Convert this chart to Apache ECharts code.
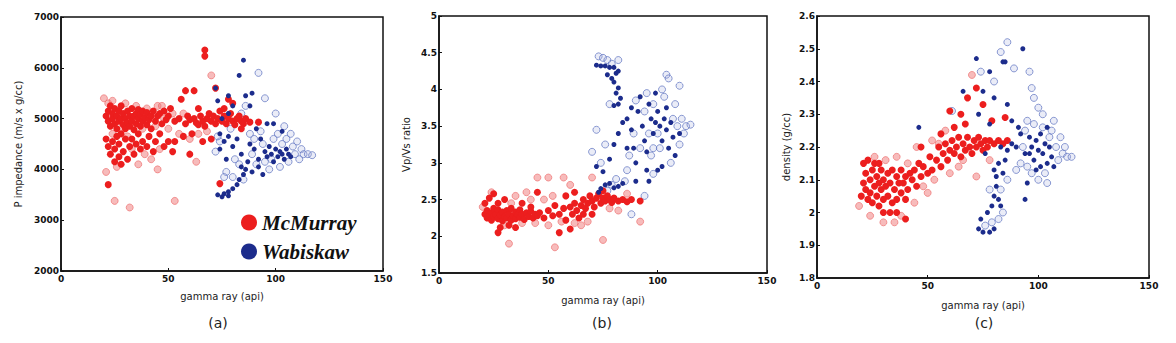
<!DOCTYPE html>
<html>
<head>
<meta charset="utf-8">
<script src="https://cdn.jsdelivr.net/npm/echarts@6/dist/echarts.min.js"></script>
<style>
  html, body { margin: 0; padding: 0; background: #fff; }
  #chart { width: 1176px; height: 343px; }
</style>
</head>
<body>
<div id="chart"></div>
<script>
// panel (a): gamma ray vs P impedance
const mcA = [[21,5050],[22,4950],[22,5150],[23,4850],[23,5250],[24,5000],[24,5100],[25,4900],[25,5200],[26,5050],[26,4800],[27,4950],[27,5150],[28,5000],[28,5250],[29,4880],[29,5100],[30,5000],[30,4800],[31,5150],[31,4920],[32,5050],[32,4850],[33,5200],[33,4950],[34,5050],[34,4780],[35,5100],[35,4900],[36,5000],[36,5180],[37,4850],[37,5080],[38,4950],[38,5150],[39,5020],[40,4880],[40,5120],[41,4980],[42,5050],[42,4800],[43,5150],[44,4950],[45,5050],[46,5100],[47,4900],[48,5150],[49,4980],[50,5050],[51,5200],
  [21,4600],[22,4450],[23,4300],[24,4550],[25,4150],[25,4400],[26,4650],[27,4250],[27,4500],[28,4100],[28,4700],[29,4350],[30,4600],[31,4200],[32,4450],[33,4600],[34,4300],[35,4500],[36,4700],[37,4400],[38,4550],[40,4450],[41,4650],[43,4350],[44,4550],[46,4700],[48,4450],[50,4550],[52,4350],
  [53,4950],[55,5000],[56,5380],[57,4650],[58,4900],[59,5050],[60,4980],[61,4700],[62,5000],[63,4920],[64,4880],[65,5050],[66,4950],[67,4850],[68,5000],[69,5100],[70,4950],[71,5050],[72,4900],[73,5000],[74,5150],[75,4950],[76,5050],[77,4900],[78,5000],[79,5100],[80,4950],[81,4880],[82,5000],[83,5050],[84,4950],[85,4900],[86,5000],[88,4930],[92,4930],
  [58,5550],[62,5550],[67,6350],[67,6230],[72,5600],[22,3700],[53,4550],[60,4300],[66,4550],[70,4600],[74,3720],[80,5300],[76,5200],[64,5200],[78,5380],[84,4800]];
const mcAFaint = [[20,5400],[22,5300],[24,5350],[21,3950],[25,3380],[32,3250],[53,3380],[45,4000],[63,4150],[30,5300],[35,5250],[40,5200],[45,5250],[48,5000],[50,4800],[38,4800],[28,4800],[33,4400],[42,4200],[36,4100],[26,4050],[46,4400],[55,4700],[60,4600],[70,5850],[57,5100],[64,4700],[68,4750],[39,4300],[44,4850],[31,4650],[24,4700],[47,5250],[52,5100]];
const wbA = [[85,6150],[83,5850],[72,5600],[73,5350],[78,5450],[80,5250],[86,5450],[88,5250],[89,5500],[73,3500],[75,3460],[76,3520],[78,3560],[80,3620],[82,3700],[83,3800],[85,3900],[84,4050],[86,4000],[78,3480],[74,4700],[76,4550],[78,4650],[80,4450],[82,4600],[74,4400],[77,4200],[84,4300],[87,4150],[88,4500],[90,4400],[92,4200],[93,4600],[95,4350],[96,4250],[97,4450],[98,4300],[99,4150],[100,4400],[101,4250],[102,4350],[103,4300],[104,4200],[105,4400],[106,4300],[107,4250],[96,4900],[99,4900],[103,4750],[92,4050],[94,3900],[89,3950],[91,4800],[78,5100],[75,5000]];
const wbAFaint = [[95,5400],[100,5100],[92,5900],[84,5100],[86,5250],[74,4550],[72,4350],[73,4650],[79,4800],[81,4200],[83,4100],[85,3800],[80,3850],[88,4700],[90,4600],[93,4750],[95,4150],[97,4000],[99,4600],[101,4700],[103,4500],[105,4600],[106,4150],[108,4450],[109,4300],[110,4550],[111,4200],[112,4400],[113,4300],[115,4300],[117,4280],[107,4700],[104,4850],[98,4200],[102,4050],[94,4500],[76,3850],[77,3950],[89,4300],[91,4100]];

// panel (b): gamma ray vs Vp/Vs ratio
const mcB = [[21,2.30],[22,2.25],[22,2.35],[23,2.28],[24,2.32],[24,2.22],[25,2.38],[25,2.27],[26,2.30],[27,2.24],[27,2.36],[28,2.29],[29,2.33],[29,2.21],[30,2.27],[31,2.35],[31,2.25],[32,2.30],[33,2.22],[33,2.38],[34,2.28],[35,2.33],[35,2.24],[36,2.30],[37,2.26],[37,2.36],[38,2.30],[39,2.23],[40,2.32],[41,2.27],[42,2.34],[43,2.25],[44,2.30],[45,2.28],[21,2.45],[23,2.52],[25,2.58],[27,2.45],[30,2.50],[32,2.15],[28,2.12],[35,2.12],[38,2.45],[42,2.40],
  [46,2.32],[48,2.25],[50,2.35],[52,2.28],[53,2.42],[55,2.30],[57,2.38],[58,2.22],[60,2.40],[61,2.30],[62,2.45],[63,2.35],[64,2.25],[65,2.42],[66,2.50],[67,2.38],[68,2.45],[69,2.55],[70,2.48],[71,2.40],[72,2.52],[73,2.58],[74,2.45],[75,2.52],[76,2.48],[77,2.55],[78,2.50],[79,2.46],[80,2.52],[82,2.48],[84,2.50],[86,2.47],[88,2.50],[92,2.48],[55,2.05],[60,2.10],[27,2.05],[66,2.30],[70,2.30],[45,2.60],[58,2.55],[62,2.60],[75,2.62]];
const mcBFaint = [[32,1.90],[53,1.85],[75,1.95],[92,2.20],[45,2.80],[50,2.80],[57,2.80],[70,2.80],[60,2.70],[40,2.60],[35,2.55],[48,2.50],[52,2.55],[56,2.20],[62,2.18],[65,2.15],[30,2.15],[20,2.40],[24,2.60],[33,2.45],[44,2.18],[50,2.15],[68,2.20],[78,2.38],[82,2.35],[86,2.58],[42,2.50],[38,2.18]];
const wbB = [[72,4.33],[74,4.32],[76,4.32],[78,4.30],[80,4.30],[81,4.22],[82,4.25],[80,4.10],[82,4.02],[81,3.95],[83,3.88],[82,3.80],[80,3.78],[79,4.15],[77,4.20],[73,2.60],[74,2.65],[76,2.70],[78,2.72],[80,2.66],[82,2.68],[84,2.72],[75,2.88],[72,2.95],[78,3.05],[80,3.25],[82,3.40],[84,3.55],[86,3.60],[88,3.45],[89,3.20],[90,3.00],[91,3.70],[93,3.50],[94,3.30],[95,3.15],[96,3.80],[97,3.60],[98,3.40],[99,3.55],[100,3.70],[101,3.50],[102,3.30],[103,3.60],[104,3.45],[105,3.20],[106,3.55],[107,3.35],[108,3.10],[102,2.95],[100,2.90],[96,2.75],[90,2.75],[88,3.75],[92,3.90],[95,2.90],[110,3.40],[99,3.95],[104,3.75],[86,3.20]];
const wbBFaint = [[73,4.45],[75,4.43],[77,4.40],[79,4.35],[82,4.40],[78,3.80],[70,3.15],[72,3.45],[74,3.00],[76,3.25],[77,2.62],[79,2.70],[81,2.78],[85,2.75],[86,2.90],[87,3.10],[89,3.40],[90,3.85],[92,3.20],[94,3.70],[95,3.95],[96,3.40],[98,3.20],[98,3.80],[100,3.40],[101,3.20],[103,3.90],[104,4.20],[105,4.15],[106,3.00],[107,3.60],[108,3.80],[109,3.50],[110,3.25],[111,3.60],[112,3.40],[113,3.50],[115,3.52],[110,4.05],[94,2.55],[98,2.85],[88,2.30],[102,4.00],[97,3.10]];

// panel (c): gamma ray vs density
const mcC = [[20,2.05],[21,2.09],[22,2.07],[22,2.12],[23,2.04],[24,2.10],[24,2.06],[25,2.13],[25,2.03],[26,2.08],[27,2.11],[27,2.05],[28,2.09],[28,2.02],[29,2.13],[29,2.07],[30,2.10],[30,2.04],[31,2.08],[32,2.12],[32,2.05],[33,2.09],[34,2.03],[34,2.13],[35,2.07],[36,2.11],[36,2.04],[37,2.09],[38,2.06],[38,2.13],[39,2.09],[40,2.04],[40,2.11],[41,2.07],[42,2.12],[23,2.16],[26,2.15],[30,2.00],[33,2.00],[36,2.00],[40,1.98],[28,2.15],[21,2.15],
  [43,2.10],[44,2.13],[45,2.08],[46,2.15],[47,2.11],[48,2.14],[50,2.12],[51,2.17],[52,2.13],[54,2.16],[55,2.20],[56,2.14],[57,2.18],[58,2.21],[59,2.16],[60,2.19],[61,2.22],[62,2.18],[63,2.20],[64,2.23],[65,2.17],[66,2.21],[67,2.19],[68,2.23],[69,2.20],[70,2.18],[71,2.22],[72,2.20],[73,2.23],[74,2.21],[75,2.19],[76,2.22],[77,2.20],[78,2.22],[80,2.21],[82,2.22],[84,2.21],[86,2.22],[60,2.31],[65,2.30],[67,2.27],[68,2.35],[72,2.38],[75,2.33],[79,2.28],[56,2.24],[47,2.20],[62,2.26],[85,2.29]];
const mcCFaint = [[19,2.02],[24,1.99],[30,1.97],[35,1.97],[38,1.99],[70,2.42],[45,2.20],[55,2.21],[72,2.11],[60,2.12],[44,2.03],[50,2.06],[52,2.22],[36,2.17],[41,2.15],[58,2.25],[64,2.14],[26,2.17],[31,2.16],[48,2.08],[66,2.16],[78,2.16],[53,2.10]];
const wbC = [[73,1.95],[75,1.94],[78,1.94],[80,1.95],[74,1.98],[77,2.00],[79,2.02],[80,2.05],[81,2.08],[82,2.04],[83,2.02],[81,2.11],[80,2.13],[82,2.15],[84,2.12],[85,2.16],[85,2.46],[84,2.46],[93,2.50],[72,2.47],[78,2.43],[66,2.37],[75,2.37],[80,2.35],[86,2.33],[73,2.30],[78,2.27],[88,2.28],[91,2.26],[94,2.04],[95,2.09],[46,2.26],[96,2.18],[97,2.20],[98,2.16],[99,2.22],[100,2.19],[101,2.24],[102,2.18],[103,2.21],[104,2.15],[105,2.20],[106,2.17],[107,2.14],[99,2.13],[101,2.14],[96,2.23],[94,2.18],[88,2.21],[90,2.20],[86,2.19],[104,2.26],[92,2.24],[76,2.18],[83,2.20]];
const wbCFaint = [[76,1.96],[79,1.97],[82,1.98],[84,2.00],[78,2.07],[83,2.07],[86,2.10],[83,2.49],[86,2.52],[89,2.44],[96,2.43],[97,2.38],[98,2.35],[100,2.32],[102,2.30],[95,2.28],[93,2.20],[92,2.15],[95,2.14],[97,2.12],[100,2.10],[103,2.12],[105,2.23],[106,2.25],[108,2.20],[110,2.23],[111,2.18],[112,2.20],[113,2.17],[115,2.17],[107,2.28],[109,2.16],[94,2.25],[90,2.13],[61,2.31],[74,2.43],[80,2.40],[98,2.27],[102,2.26],[104,2.09]];

const xTicks = [0, 150, 50];           // min, max, interval (gamma ray)
const yRanges = [
  [2000, 7000, 1000],
  [1.5, 5, 0.5],
  [1.8, 2.6, 0.1]
];
const yNames = ['P impedance (m/s x g/cc)', 'Vp/Vs ratio', 'density (g/cc)'];
const captions = ['(a)', '(b)', '(c)'];

const grids = [
  { left: 61, top: 17, width: 322, height: 254 },
  { left: 439, top: 16, width: 328, height: 257 },
  { left: 817, top: 16, width: 332, height: 262 }
];
const yNameGaps = [38, 28, 26];
const xNameGaps = [20, 22, 22];
const captionX = [213, 597, 979];

function labelFont() {
  return { color: '#111', fontFamily: 'DejaVu Sans', fontWeight: 'bold', fontSize: 9 };
}
const plain = v => String(+Number(v).toFixed(2));

const xAxis = grids.map((g, i) => ({
  gridIndex: i, type: 'value', min: xTicks[0], max: xTicks[1], interval: xTicks[2],
  name: 'gamma ray (api)', nameLocation: 'middle', nameGap: xNameGaps[i],
  nameTextStyle: { color: '#222', fontFamily: 'DejaVu Sans', fontSize: 10 },
  axisLine: { show: true, lineStyle: { color: '#111', width: 1.5 } },
  axisTick: { show: true, inside: true, length: 3, lineStyle: { color: '#111' } },
  axisLabel: Object.assign({ margin: 3, formatter: plain }, labelFont()),
  splitLine: { show: false }
}));
const yAxis = grids.map((g, i) => ({
  gridIndex: i, type: 'value', min: yRanges[i][0], max: yRanges[i][1], interval: yRanges[i][2],
  name: yNames[i], nameLocation: 'middle', nameGap: yNameGaps[i],
  nameTextStyle: { color: '#222', fontFamily: 'DejaVu Sans', fontSize: 10 },
  axisLine: { show: true, lineStyle: { color: '#111', width: 1.5 } },
  axisTick: { show: true, inside: true, length: 3, lineStyle: { color: '#111' } },
  axisLabel: Object.assign({ margin: 2, formatter: plain }, labelFont()),
  splitLine: { show: false }
}));

const panels = [
  [mcA, mcAFaint, wbA, wbAFaint],
  [mcB, mcBFaint, wbB, wbBFaint],
  [mcC, mcCFaint, wbC, wbCFaint]
];

const series = [];
panels.forEach((p, i) => {
  const base = { type: 'scatter', xAxisIndex: i, yAxisIndex: i };
  series.push(Object.assign({}, base, {
    name: 'McMurray (faint)', data: p[1], symbolSize: 7,
    itemStyle: { color: 'rgba(240,120,120,0.5)', borderColor: 'rgba(235,90,90,0.55)', borderWidth: 1, opacity: 1 }
  }));
  series.push(Object.assign({}, base, {
    name: 'Wabiskaw (open)', data: p[3], symbolSize: 7,
    itemStyle: { color: 'rgba(170,180,225,0.25)', borderColor: 'rgba(100,120,195,0.75)', borderWidth: 1, opacity: 1 }
  }));
  series.push(Object.assign({}, base, {
    name: 'McMurray', data: p[0], symbolSize: 7,
    itemStyle: { color: '#ec1e1e', opacity: 1 }
  }));
  series.push(Object.assign({}, base, {
    name: 'Wabiskaw', data: p[2], symbolSize: 5,
    itemStyle: { color: '#1c2c8c', opacity: 1 }
  }));
});

// svg renderer: the canvas one kept losing the frame lines with this many marks
const chart = echarts.init(document.getElementById('chart'), null, { renderer: 'svg' });
chart.setOption({
  animation: false,
  grid: grids.map(g => Object.assign({ show: true, borderColor: '#111', borderWidth: 1.5 }, g)),
  xAxis: xAxis,
  yAxis: yAxis,
  series: series,
  title: captions.map((c, i) => ({
    text: c, left: captionX[i], top: 311, textAlign: 'center',
    textStyle: { color: '#222', fontFamily: 'DejaVu Sans', fontWeight: 'normal', fontSize: 14 }
  })),
  legend: {
    data: ['McMurray', 'Wabiskaw'],
    orient: 'vertical', left: 236, top: 207, itemGap: 8,
    icon: 'circle', itemWidth: 16, itemHeight: 16, selectedMode: false,
    textStyle: { color: '#111', fontFamily: 'Liberation Serif', fontStyle: 'italic', fontWeight: 'bold', fontSize: 21 }
  }
});
</script>
</body>
</html>
